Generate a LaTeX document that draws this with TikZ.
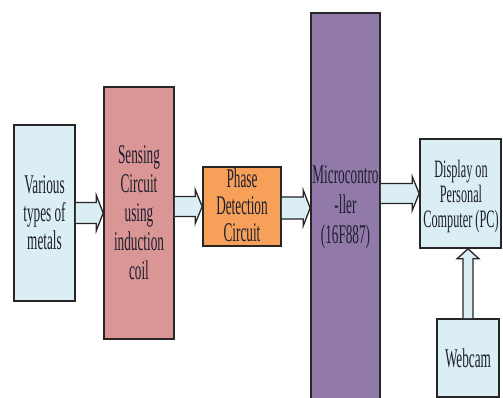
\documentclass[tikz,border=0pt]{standalone}
\usepackage{fontspec}
\newfontfamily\cond[FakeStretch=0.49]{Liberation Serif}
\usetikzlibrary{calc}
\definecolor{lblue}{HTML}{DAEEF3}
\definecolor{pinkred}{HTML}{D99694}
\definecolor{orng}{HTML}{F6A05A}
\definecolor{purp}{HTML}{917AAA}
\definecolor{dark}{HTML}{262626}
\definecolor{txt}{HTML}{1E1E2E}
\tikzset{
  boxnode/.style={draw=dark, line width=1.6pt, inner sep=0pt, align=center, text=txt,
    font={\cond\fontsize{27pt}{28pt}\selectfont}},
  arrline/.style={draw=dark, line width=1.3pt, line join=miter},
}
% horizontal block arrow: #1 start anchor, #2 end anchor, #3 shaft half width, #4 head half width
\newcommand\harr[4]{%
  \fill[lblue] let \p1=(#1), \p2=(#2) in
    (\x1,\y2+#3) -- (\x2-7pt,\y2+#3) -- (\x2-7pt,\y2+#4) -- (\x2,\y2) --
    (\x2-7pt,\y2-#4) -- (\x2-7pt,\y2-#3) -- (\x1,\y2-#3) -- cycle;
  \draw[arrline] let \p1=(#1), \p2=(#2) in
    (\x1,\y2+#3) -- (\x2-7pt,\y2+#3) -- (\x2-7pt,\y2+#4) -- (\x2,\y2) --
    (\x2-7pt,\y2-#4) -- (\x2-7pt,\y2-#3) -- (\x1,\y2-#3);
}
% vertical (upward) block arrow
\newcommand\varr[4]{%
  \fill[lblue] let \p1=(#1), \p2=(#2) in
    (\x1-#3,\y1) -- (\x1-#3,\y2-10pt) -- (\x1-#4,\y2-10pt) -- (\x1,\y2) --
    (\x1+#4,\y2-10pt) -- (\x1+#3,\y2-10pt) -- (\x1+#3,\y1) -- cycle;
  \draw[arrline] let \p1=(#1), \p2=(#2) in
    (\x1-#3,\y1) -- (\x1-#3,\y2-10pt) -- (\x1-#4,\y2-10pt) -- (\x1,\y2) --
    (\x1+#4,\y2-10pt) -- (\x1+#3,\y2-10pt) -- (\x1+#3,\y1);
}
\begin{document}
\begin{tikzpicture}[x=1pt,y=-1pt]
\useasboundingbox (0,0) rectangle (503,398);
\clip (0,0) rectangle (503,398);
\fill[white] (0,0) rectangle (503,398);

\node[boxnode, fill=lblue, minimum width=61pt, minimum height=176pt] (metals) at (44.5,213)
  {Various\\types of\\metals};
\node[boxnode, fill=pinkred, minimum width=70pt, minimum height=252pt,
  font={\cond\fontsize{27pt}{29pt}\selectfont}] (sensing) at (139,213)
  {Sensing\\Circuit\\using\\induction\\coil};
\node[boxnode, fill=orng, minimum width=78pt, minimum height=79pt] (phase) at (242,206.5)
  {};
\node[text=txt, align=center, inner sep=0pt,
  font={\cond\fontsize{27pt}{27pt}\selectfont}] (phasetext) at (242,205)
  {Phase\\Detection\\Circuit};
\node[boxnode, fill=purp, minimum width=69pt, minimum height=390pt] (micro) at (345.5,208)
  {};
\node[text=txt, align=center, inner sep=0pt,
  font={\cond\fontsize{27pt}{30pt}\selectfont}] (microtext) at (345.5,207)
  {Microcontro\\-ller\\(16F887)};
\node[boxnode, fill=lblue, minimum width=81pt, minimum height=109pt] (display) at (460.5,193.5)
  {};
\node[text=txt, align=center, inner sep=0pt,
  font={\cond\fontsize{25pt}{25pt}\selectfont}] (displaytext) at (461,196)
  {Display on\\Personal\\Computer (PC)};
\node[boxnode, fill=lblue, minimum width=62pt, minimum height=78pt] (webcam) at (468,358)
  {Webcam};

\harr{metals.east}{sensing.west}{10.5pt}{18pt}
\harr{sensing.east}{phase.west}{10pt}{17pt}
\harr{phase.east}{micro.west}{11pt}{18pt}
\harr{micro.east}{display.west}{10pt}{17pt}
\varr{webcam.north}{display.south}{5pt}{11pt}
\end{tikzpicture}
\end{document}
